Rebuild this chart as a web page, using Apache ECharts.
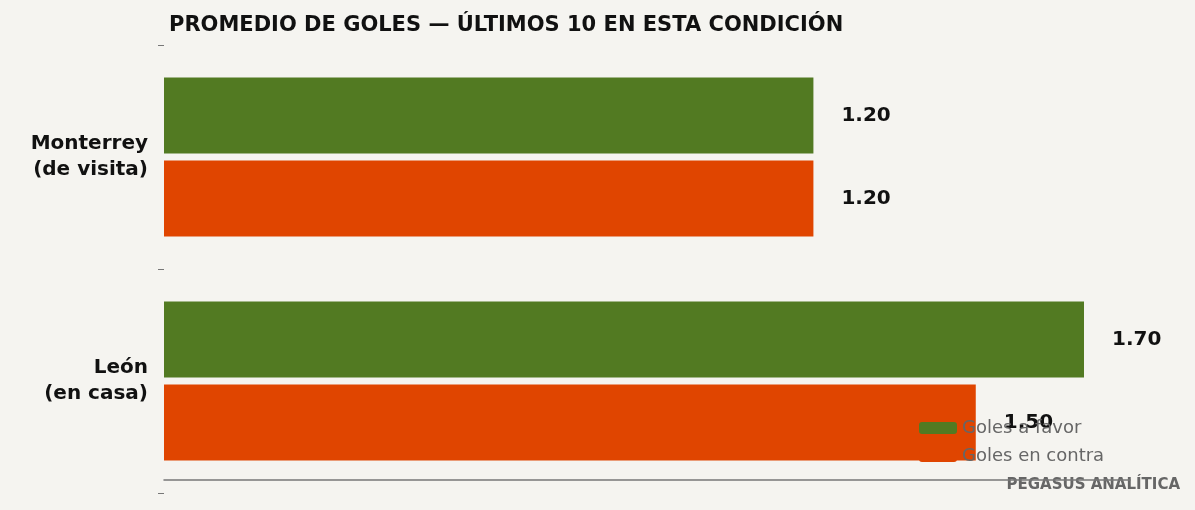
<!DOCTYPE html><html><head><meta charset="utf-8"><script src="https://cdn.jsdelivr.net/npm/echarts@6/dist/echarts.min.js"></script>
<style>html,body{margin:0;background:#f5f4f0}#c{width:1195px;height:510px}</style></head><body><div id="c"></div><script>
const categories=["Monterrey\n(de visita)","León\n(en casa)"];
const golesFavor=[1.20,1.70];
const golesContra=[1.20,1.50];
const seriesNames=["Goles a favor","Goles en contra"];
const F='DejaVu Sans';
const ch=echarts.init(document.getElementById('c'));
const lbl={show:true,position:'right',distance:28,formatter:p=>p.value.toFixed(2),fontFamily:F,fontSize:20,fontWeight:'bold',color:'#111'};
ch.setOption({
 backgroundColor:'#f5f4f0',
 title:{text:'PROMEDIO DE GOLES — ÚLTIMOS 10 EN ESTA CONDICIÓN',left:164,top:10,textStyle:{fontFamily:F,fontSize:21,fontWeight:'bold',color:'#111'}},
 graphic:[{type:'text',right:15,top:478,style:{text:'PEGASUS ANALÍTICA',font:'bold 15px "DejaVu Sans"',fill:'#666'}}],
 legend:{orient:'vertical',left:914,top:414,itemWidth:38,itemHeight:12,itemGap:10,z:10,textStyle:{fontFamily:F,fontSize:18,color:'#666'},data:seriesNames},
 grid:{left:164,right:65,top:45,height:448},
 xAxis:{type:'value',min:0,max:1.785,offset:-13,splitLine:{show:false},axisLabel:{show:false},axisTick:{show:false},axisLine:{show:true,lineStyle:{color:'#777',width:1.5}}},
 yAxis:{type:'category',inverse:true,data:categories,axisLine:{show:false},axisTick:{show:true,length:6,lineStyle:{color:'#777'}},axisLabel:{fontFamily:F,fontSize:20,fontWeight:'bold',color:'#111',lineHeight:26,margin:16}},
 series:[
  {name:seriesNames[0],type:'bar',data:golesFavor,barWidth:76,barGap:'9%',itemStyle:{color:'#527a22'},label:lbl},
  {name:seriesNames[1],type:'bar',data:golesContra,barWidth:76,itemStyle:{color:'#e04500'},label:lbl}
 ]
});
</script></body></html>
